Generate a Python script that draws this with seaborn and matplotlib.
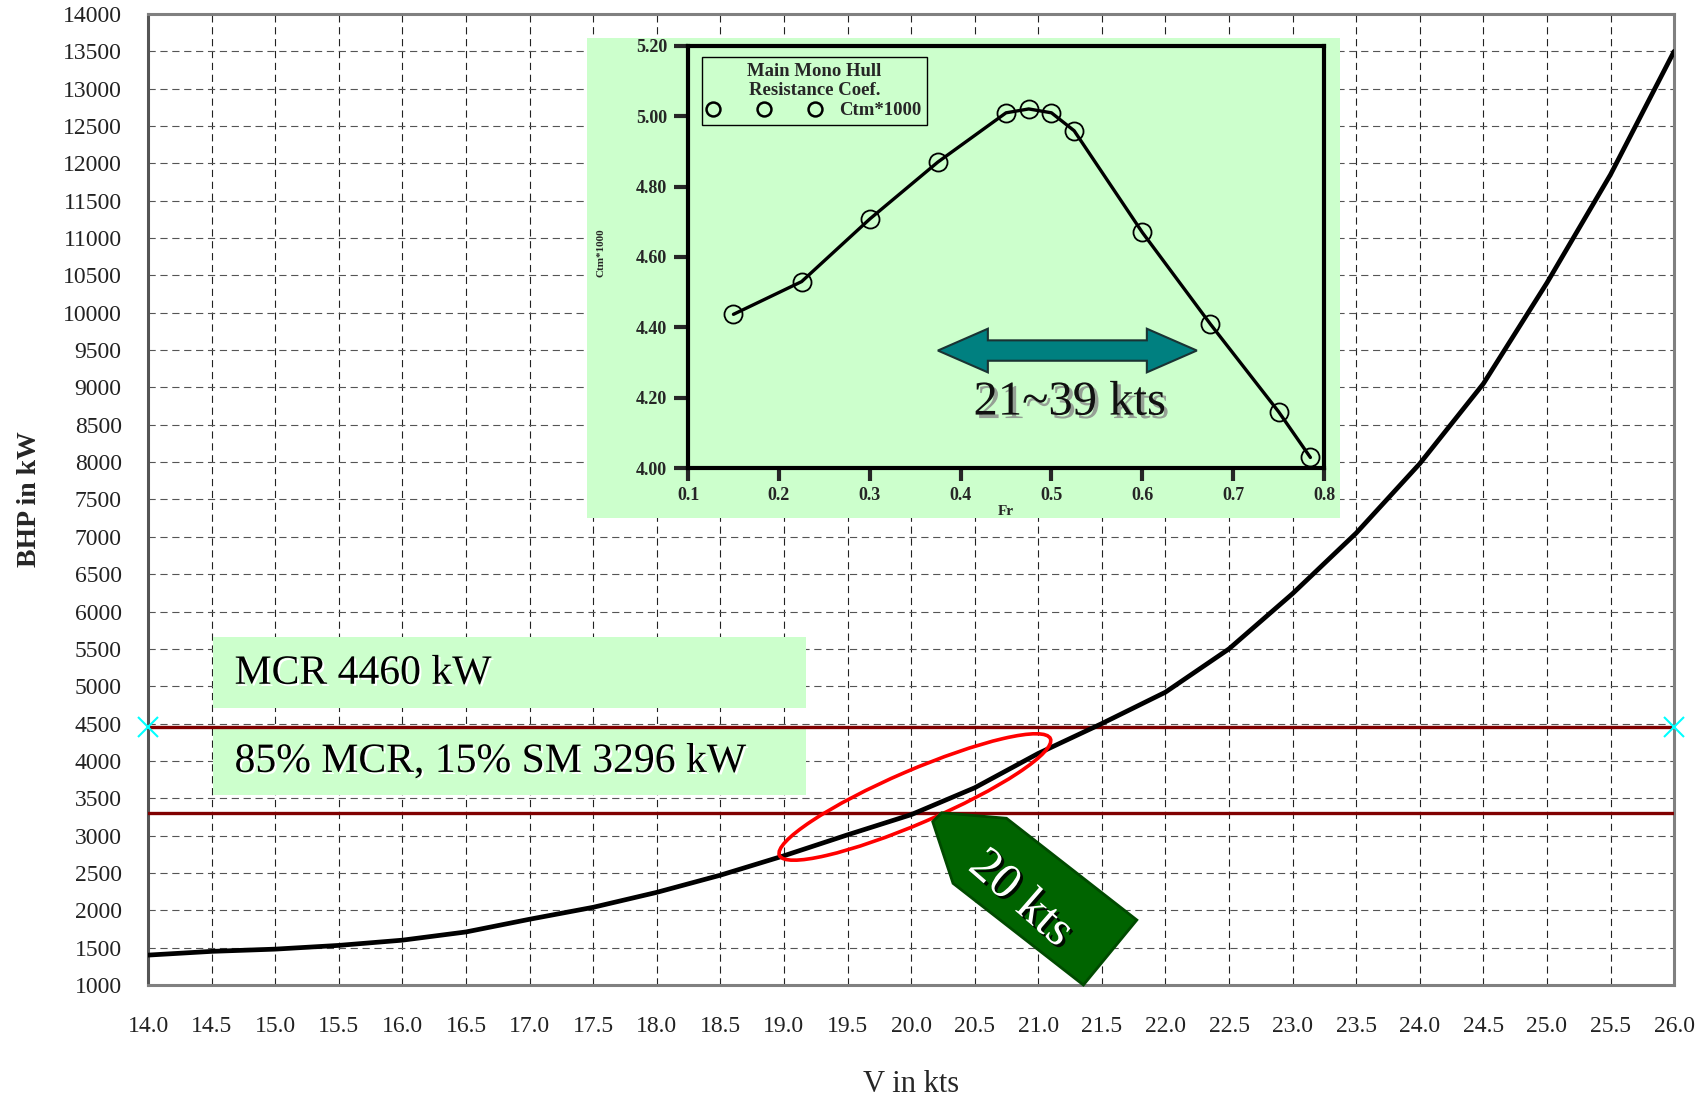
import numpy as np
import matplotlib
matplotlib.use('Agg')
import matplotlib.pyplot as plt
import matplotlib.patheffects as pe
from matplotlib.patches import Rectangle, Ellipse, Polygon
from matplotlib.lines import Line2D
from matplotlib.transforms import ScaledTranslation
import seaborn as sns

# main curve: brake power vs speed
speed_kts = [14.0, 14.5, 15.0, 15.5, 16.0, 16.5, 17.0, 17.5, 18.0, 18.5, 19.0, 19.5,
             20.0, 20.5, 21.0, 21.5, 22.0, 22.5, 23.0, 23.5, 24.0, 24.5, 25.0, 25.5, 26.0]
bhp_kw = [1400, 1450, 1480, 1530, 1600, 1710, 1880, 2040, 2240, 2470, 2730, 3010,
          3280, 3640, 4100, 4500, 4920, 5500, 6240, 7050, 7980, 9050, 10400, 11850, 13500]

mcr_kw = 4460
sm_kw = 3296
mcr_marker_kts = [14.0, 26.0]

# inset: resistance coefficient vs Froude number
froude = [0.15, 0.225, 0.30, 0.375, 0.45, 0.475, 0.50, 0.525, 0.60, 0.675, 0.75, 0.785]
ctm = [4.437, 4.530, 4.708, 4.870, 5.010, 5.021, 5.010, 4.959, 4.670, 4.409, 4.160, 4.030]

x_ticks = np.arange(14.0, 26.01, 0.5)
y_ticks = np.arange(1000, 14001, 500)
fr_ticks = [0.1, 0.2, 0.3, 0.4, 0.5, 0.6, 0.7, 0.8]
ctm_ticks = [4.00, 4.20, 4.40, 4.60, 4.80, 5.00, 5.20]

sns.set_style('white')
plt.rcParams['font.family'] = ['Liberation Serif', 'DejaVu Serif']

fig = plt.figure(figsize=(17.06, 11.03), dpi=100)
ax = fig.add_axes([0.0868, 0.1070, 0.8945, 0.8803])
ax.set_axisbelow(True)

sns.lineplot(x=speed_kts, y=bhp_kw, color='black', linewidth=3.4, ax=ax, zorder=4)

ax.set_xlim(14, 26)
ax.set_ylim(1000, 14000)
ax.set_xticks(x_ticks)
ax.set_xticklabels([f'{v:.1f}' for v in x_ticks], fontsize=17, color='#222222')
ax.set_yticks(y_ticks)
ax.set_yticklabels([str(v) for v in y_ticks], fontsize=17, color='#222222')
ax.tick_params(axis='x', length=0, pad=22)
ax.tick_params(axis='y', length=0, pad=19)
ax.xaxis.grid(True, color='#222222', linestyle=(0, (6.5, 4.2)), linewidth=0.8)
ax.yaxis.grid(True, color='#555555', linestyle=(0, (6.5, 4.2)), linewidth=0.8)
for s in ax.spines.values():
    s.set_color('#808080')
    s.set_linewidth(2.2)
ax.spines['left'].set_color('#555555')

ax.set_xlabel('V in kts', fontsize=22)
ax.xaxis.set_label_coords(0.5, -0.103)
ax.xaxis.label.set_va('center')
ax.set_ylabel('BHP in kW', fontsize=20, fontweight='bold')
ax.yaxis.set_label_coords(-0.078, 0.5)
ax.yaxis.label.set_va('center')

# MCR lines and labels
ax.axhline(mcr_kw, color='#800000', linewidth=2.4, zorder=3)
ax.axhline(sm_kw, color='#800000', linewidth=2.4, zorder=3)
ax.plot(mcr_marker_kts, [mcr_kw, mcr_kw], linestyle='none', marker='x', color='cyan',
        markersize=15, markeredgewidth=1.5, clip_on=False, zorder=6)

ax.add_patch(Rectangle((14.51, 4710), 4.66, 955, facecolor='#ccffcc', edgecolor='none', zorder=2))
ax.add_patch(Rectangle((14.51, 3545), 4.66, 915, facecolor='#ccffcc', edgecolor='none', zorder=2))
glow = [pe.SimplePatchShadow(offset=(1.5, -1.5), shadow_rgbFace='white', alpha=1), pe.Normal()]
ax.text(14.68, 5170, f'MCR {mcr_kw} kW', fontsize=30, va='center', ha='left',
        color='black', zorder=5, path_effects=glow)
ax.text(14.68, 3990, f'85% MCR, 15% SM {sm_kw} kW', fontsize=30, va='center', ha='left',
        color='black', zorder=5, path_effects=glow)

# red ellipse around design point
ell_tr = fig.dpi_scale_trans + ScaledTranslation(20.03, 3517, ax.transData)
ax.add_patch(Ellipse((0, 0), 2.95, 0.53, angle=23.3, transform=ell_tr, fill=False,
                     edgecolor='#ff0000', linewidth=2.6, zorder=5))

# 20 kts tag
tag = [(20.17, 3186), (20.24, 3306), (20.75, 3232), (21.775, 1870), (21.355, 1000), (20.33, 2361)]
ax.add_patch(Polygon(tag, closed=True, facecolor='#006400', edgecolor='#004a00',
                     linewidth=2, zorder=5, clip_on=False))
ax.text(20.86, 2150, '20 kts', fontsize=36, rotation=-41, color='white', ha='center',
        va='center', rotation_mode='anchor', zorder=6,
        path_effects=[pe.SimplePatchShadow(offset=(2, -2), shadow_rgbFace='black', alpha=0.9),
                      pe.Normal()])

# inset
box_ax = fig.add_axes([0.3441, 0.5304, 0.4414, 0.4352])
box_ax.set_facecolor('#ccffcc')
box_ax.set_xticks([])
box_ax.set_yticks([])
for s in box_ax.spines.values():
    s.set_visible(False)

ins = fig.add_axes([0.4033, 0.5757, 0.3728, 0.3826])
ins.set_facecolor('#ccffcc')
sns.lineplot(x=froude, y=ctm, color='black', linewidth=2.4, marker='o', markersize=13,
             markerfacecolor='none', markeredgecolor='black', markeredgewidth=1.3, ax=ins)
ins.set_xlim(0.1, 0.8)
ins.set_ylim(4.0, 5.2)
ins.set_xticks(fr_ticks)
ins.set_xticklabels([f'{v:.1f}' for v in fr_ticks], fontsize=13, fontweight='bold')
ins.set_yticks(ctm_ticks)
ins.set_yticklabels([f'{v:.2f}' for v in ctm_ticks], fontsize=13, fontweight='bold')
ins.tick_params(axis='y', direction='out', length=10, width=3, pad=5, left=True)
ins.tick_params(axis='x', direction='out', length=9, width=3, pad=5, bottom=True)
for s in ins.spines.values():
    s.set_color('black')
    s.set_linewidth(3)
ins.set_xlabel('Fr', fontsize=11, fontweight='bold')
ins.xaxis.set_label_coords(0.5, -0.102)
ins.xaxis.label.set_va('center')
ins.set_ylabel('Ctm*1000', fontsize=8, fontweight='bold')
ins.yaxis.set_label_coords(-0.137, 0.51)
ins.yaxis.label.set_va('center')

h = Line2D([], [], linestyle='none', marker='o', markerfacecolor='none',
           markeredgecolor='black', markersize=10, markeredgewidth=1.8)
leg = ins.legend(handles=[h], labels=['Ctm*1000'], title='Main Mono Hull\nResistance Coef.',
                 numpoints=3, handlelength=6.0, loc='upper left', bbox_to_anchor=(0.022, 0.974),
                 borderaxespad=0, frameon=True, fancybox=False, edgecolor='black',
                 facecolor='#ccffcc', framealpha=1, borderpad=0.3, handletextpad=1.0,
                 prop={'weight': 'bold', 'size': 13.5},
                 title_fontproperties={'weight': 'bold', 'size': 13.5})
leg.get_frame().set_linewidth(1)
leg.get_title().set_multialignment('center')
leg._legend_box.sep = 2

arrow = [(0.375, 4.334), (0.43, 4.396), (0.43, 4.363), (0.605, 4.363), (0.605, 4.396),
         (0.66, 4.334), (0.605, 4.272), (0.605, 4.305), (0.43, 4.305), (0.43, 4.272)]
ins.add_patch(Polygon(arrow, closed=True, facecolor='#008080', edgecolor='#1a3333',
                      linewidth=1.5, zorder=3))
ins.text(0.52, 4.186, '21~39 kts', fontsize=35, ha='center', va='center', color='#111111',
         path_effects=[pe.SimplePatchShadow(offset=(2.5, -2.5), shadow_rgbFace='#888888',
                                            alpha=0.8), pe.Normal()])

fig.savefig('out.png', dpi=100)
